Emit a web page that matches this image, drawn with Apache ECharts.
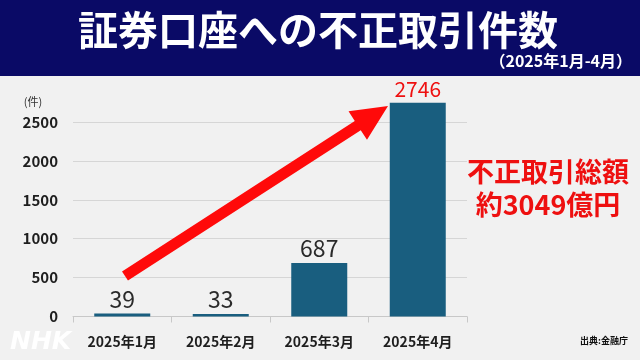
<!DOCTYPE html>
<html><head><meta charset="utf-8">
<script src="https://cdn.jsdelivr.net/npm/echarts@6/dist/echarts.min.js"></script>
<style>html,body{margin:0;padding:0;background:#f1f1f1}#c{width:640px;height:360px}</style>
</head><body><div id="c"></div>
<script>
var categories = ['2025年1月', '2025年2月', '2025年3月', '2025年4月'];
var values = [39, 33, 687, 2746];
var yTicks = [0, 500, 1000, 1500, 2000, 2500];
var titleText = '証券口座への不正取引件数';
var subtitleText = '（2025年1月-4月）';
var noteLines = ['不正取引総額', '約3049億円'];
var unitText = '(件)';
var sourceText = '出典:金融庁';

var FONT = '"Noto Sans CJK JP", "Noto Sans", sans-serif';
var RED = '#ee1010';

// arrow decoration polygon
function arrowPts(tx, ty, px, py, shaftHalf, headLen, headHalf) {
  var dx = px - tx, dy = py - ty, L = Math.sqrt(dx*dx + dy*dy);
  var ux = dx / L, uy = dy / L, nx = -uy, ny = ux;
  var bx = px - ux * headLen, by = py - uy * headLen;
  return [
    [tx + nx*shaftHalf, ty + ny*shaftHalf],
    [bx + nx*shaftHalf, by + ny*shaftHalf],
    [bx + nx*headHalf, by + ny*headHalf],
    [px, py],
    [bx - nx*headHalf, by - ny*headHalf],
    [bx - nx*shaftHalf, by - ny*shaftHalf],
    [tx - nx*shaftHalf, ty - ny*shaftHalf]
  ];
}

var barData = values.map(function (v, i) {
  var last = i === values.length - 1;
  return {
    value: v,
    label: last ? { color: RED, fontSize: 21 } : {}
  };
});

var chart = echarts.init(document.getElementById('c'));
chart.setOption({
  backgroundColor: '#f1f1f1',
  animation: false,
  textStyle: { fontFamily: FONT },
  grid: { left: 73, right: 173, top: 122, bottom: 43.5, containLabel: false },
  xAxis: {
    type: 'category',
    data: categories,
    axisLine: { lineStyle: { color: '#c8c8c8', width: 1 } },
    axisTick: { show: true, length: 6, lineStyle: { color: '#c8c8c8' } },
    axisLabel: { color: '#1e1e1e', fontSize: 14, fontWeight: 'bold', margin: 18, fontFamily: FONT }
  },
  yAxis: {
    type: 'value',
    min: yTicks[0],
    max: yTicks[yTicks.length - 1],
    interval: 500,
    axisLine: { show: false },
    axisTick: { show: false },
    splitLine: { lineStyle: { color: '#d6d6d6', width: 1 } },
    axisLabel: {
      color: '#1e1e1e', fontSize: 15, fontWeight: 'bold', margin: 15, fontFamily: FONT,
      formatter: function (v) { return String(v); }
    }
  },
  series: [{
    type: 'bar',
    data: barData,
    barWidth: 56,
    clip: false,
    itemStyle: { color: '#195e7f' },
    label: {
      show: true, position: 'top', distance: 3,
      color: '#2a2a2a', fontSize: 23, fontFamily: FONT
    }
  }],
  graphic: [
    { type: 'rect', left: 0, top: 0, shape: { width: 640, height: 76 }, style: { fill: '#0a0a66' }, z: 10 },
    { type: 'text', x: 318, y: 30, z: 11, style: { text: titleText, fill: '#ffffff', font: 'bold 40px ' + FONT, textAlign: 'center', textVerticalAlign: 'middle' } },
    { type: 'text', x: 632, y: 61, z: 11, style: { text: subtitleText, fill: '#ffffff', font: 'bold 16px ' + FONT, textAlign: 'right', textVerticalAlign: 'middle' } },
    { type: 'text', x: 33, y: 102, z: 11, style: { text: unitText, fill: '#333', font: '11px ' + FONT, textAlign: 'center', textVerticalAlign: 'middle' } },
    { type: 'text', x: 548, y: 172, z: 11, style: { text: noteLines[0], fill: RED, font: 'bold 27px ' + FONT, textAlign: 'center', textVerticalAlign: 'middle' } },
    { type: 'text', x: 548, y: 205, z: 11, style: { text: noteLines[1], fill: RED, font: 'bold 27px ' + FONT, textAlign: 'center', textVerticalAlign: 'middle' } },
    { type: 'polygon', z: 12, shape: { points: arrowPts(125, 276, 388, 106, 5.5, 36, 17) }, style: { fill: '#ff0a0a' } },
    { type: 'text', x: 10, y: 342, z: 11, style: { text: 'NHK', fill: 'rgba(255,255,255,0.95)', font: 'italic 900 25px "DejaVu Sans", sans-serif', textAlign: 'left', textVerticalAlign: 'middle', shadowColor: 'rgba(0,0,0,0.12)', shadowBlur: 2 } },
    { type: 'text', x: 628, y: 341, z: 11, style: { text: sourceText, fill: '#111', font: 'bold 9px ' + FONT, textAlign: 'right', textVerticalAlign: 'middle' } }
  ]
});
</script></body></html>
